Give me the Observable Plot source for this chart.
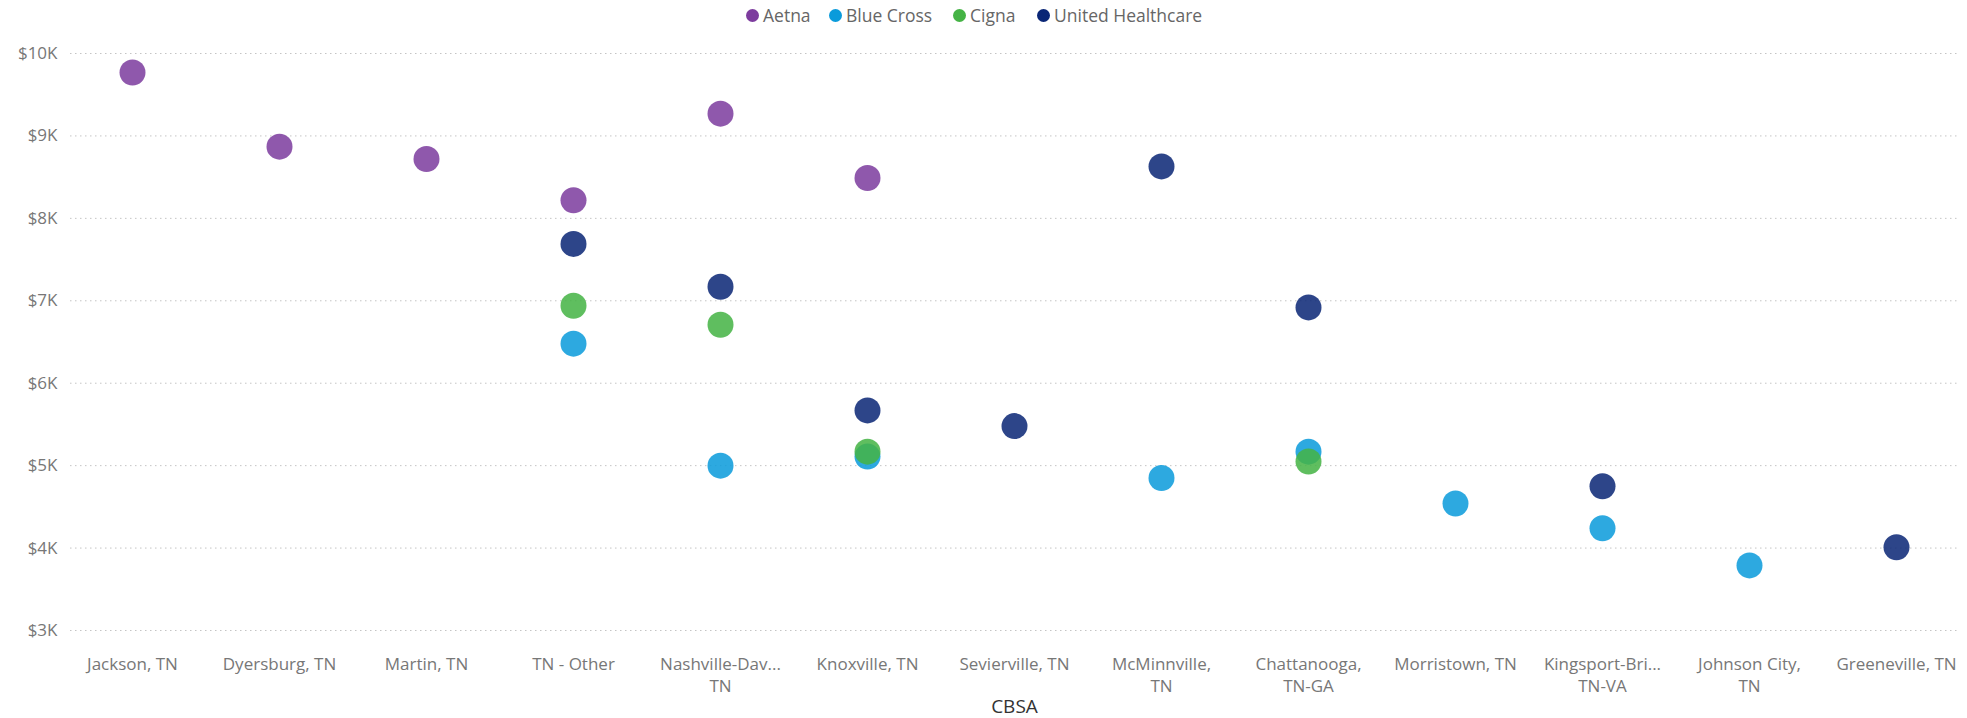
<!DOCTYPE html>
<html>
<head>
<meta charset="utf-8">
<script src="https://cdn.jsdelivr.net/npm/d3@7"></script>
<script src="https://cdn.jsdelivr.net/npm/@observablehq/plot@0.6"></script>
<style>
  html, body { margin: 0; padding: 0; background: #fff; }
  body { position: relative; width: 1967px; height: 718px; overflow: hidden; font-family: "Segoe UI", "Open Sans", sans-serif; }
  #legend { position: relative; height: 30px; }
  #legend .item { position: absolute; top: 0; height: 30px; display: flex; align-items: center; font-size: 17.5px; color: #666; white-space: nowrap; }
  #legend .dot { width: 13px; height: 13px; border-radius: 50%; margin-right: 4px; }
  #chart svg { display: block; }
  #xtitle { position: absolute; left: 62px; right: 0; top: 695px; height: 23px; text-align: center; font-size: 19px; color: #333; line-height: 23px; }
</style>
</head>
<body>
<div id="legend"></div>
<div id="chart"></div>
<div id="xtitle">CBSA</div>
<script>
const categories = ["Jackson, TN", "Dyersburg, TN", "Martin, TN", "TN - Other",
  "Nashville-Davidson--Murfreesboro--Franklin, TN", "Knoxville, TN", "Sevierville, TN",
  "McMinnville, TN", "Chattanooga, TN-GA", "Morristown, TN", "Kingsport-Bristol, TN-VA",
  "Johnson City, TN", "Greeneville, TN"];
const tickLabels = ["Jackson, TN", "Dyersburg, TN", "Martin, TN", "TN - Other",
  "Nashville-Dav...\nTN", "Knoxville, TN", "Sevierville, TN", "McMinnville,\nTN",
  "Chattanooga,\nTN-GA", "Morristown, TN", "Kingsport-Bri...\nTN-VA", "Johnson City,\nTN",
  "Greeneville, TN"];
const carriers = ["Aetna", "Blue Cross", "Cigna", "United Healthcare"];
const carrierColors = ["#7d3c9e", "#0a9bdb", "#45b345", "#0a2676"];
const legendX = [746, 829, 953, 1037];

const aetna     = [9770, 8870, 8720, 8220, 9270, 8490, null, null, null, null, null, null, null];
const blueCross = [null, null, null, 6480, 5000, 5110, null, 4850, 5170, 4540, 4240, 3790, null];
const cigna     = [null, null, null, 6940, 6710, 5170, null, null, 5050, null, null, null, null];
const uhc       = [null, null, null, 7690, 7170, 5670, 5480, 8630, 6920, null, 4750, null, 4010];

const yTicks = [3000, 4000, 5000, 6000, 7000, 8000, 9000, 10000];

const series = [aetna, blueCross, cigna, uhc];
const data = [];
series.forEach((vals, s) => vals.forEach((v, i) => {
  if (v != null) data.push({cbsa: categories[i], carrier: carriers[s], value: v});
}));

// legend
const legend = document.getElementById("legend");
carriers.forEach((c, i) => {
  const item = document.createElement("div");
  item.className = "item";
  item.style.left = legendX[i] + "px";
  const dot = document.createElement("span");
  dot.className = "dot";
  dot.style.background = carrierColors[i];
  item.appendChild(dot);
  item.appendChild(document.createTextNode(c));
  legend.appendChild(item);
});

const labelOf = new Map(categories.map((c, i) => [c, tickLabels[i]]));

const chart = Plot.plot({
  width: 1967,
  height: 688,
  marginLeft: 70,
  marginRight: 8,
  marginTop: 10,
  marginBottom: 88,
  style: {fontFamily: "'Segoe UI', 'Open Sans', sans-serif", fontSize: "17px", color: "#777", background: "#fff"},
  x: {type: "point", domain: categories, range: [132, 1896], padding: 0},
  y: {domain: [3000, 10000], range: [600, 23]},
  color: {domain: carriers, range: carrierColors},
  marks: [
    Plot.ruleY(yTicks, {stroke: "#c4c4c4", strokeDasharray: "1.5,3.5", strokeWidth: 1}),
    Plot.axisY(yTicks, {tickSize: 0, tickPadding: 13, tickFormat: d => "$" + d / 1000 + "K", label: null, fill: "#777", fontSize: 17}),
    Plot.axisX({tickSize: 0, tickPadding: 23, tickFormat: d => labelOf.get(d), label: null, fill: "#777", fontSize: 17, lineHeight: 1.33}),
    Plot.dot(data, {x: "cbsa", y: "value", fill: "carrier", r: 13, fillOpacity: 0.86, stroke: "none"})
  ]
});
document.getElementById("chart").appendChild(chart);
</script>
</body>
</html>
